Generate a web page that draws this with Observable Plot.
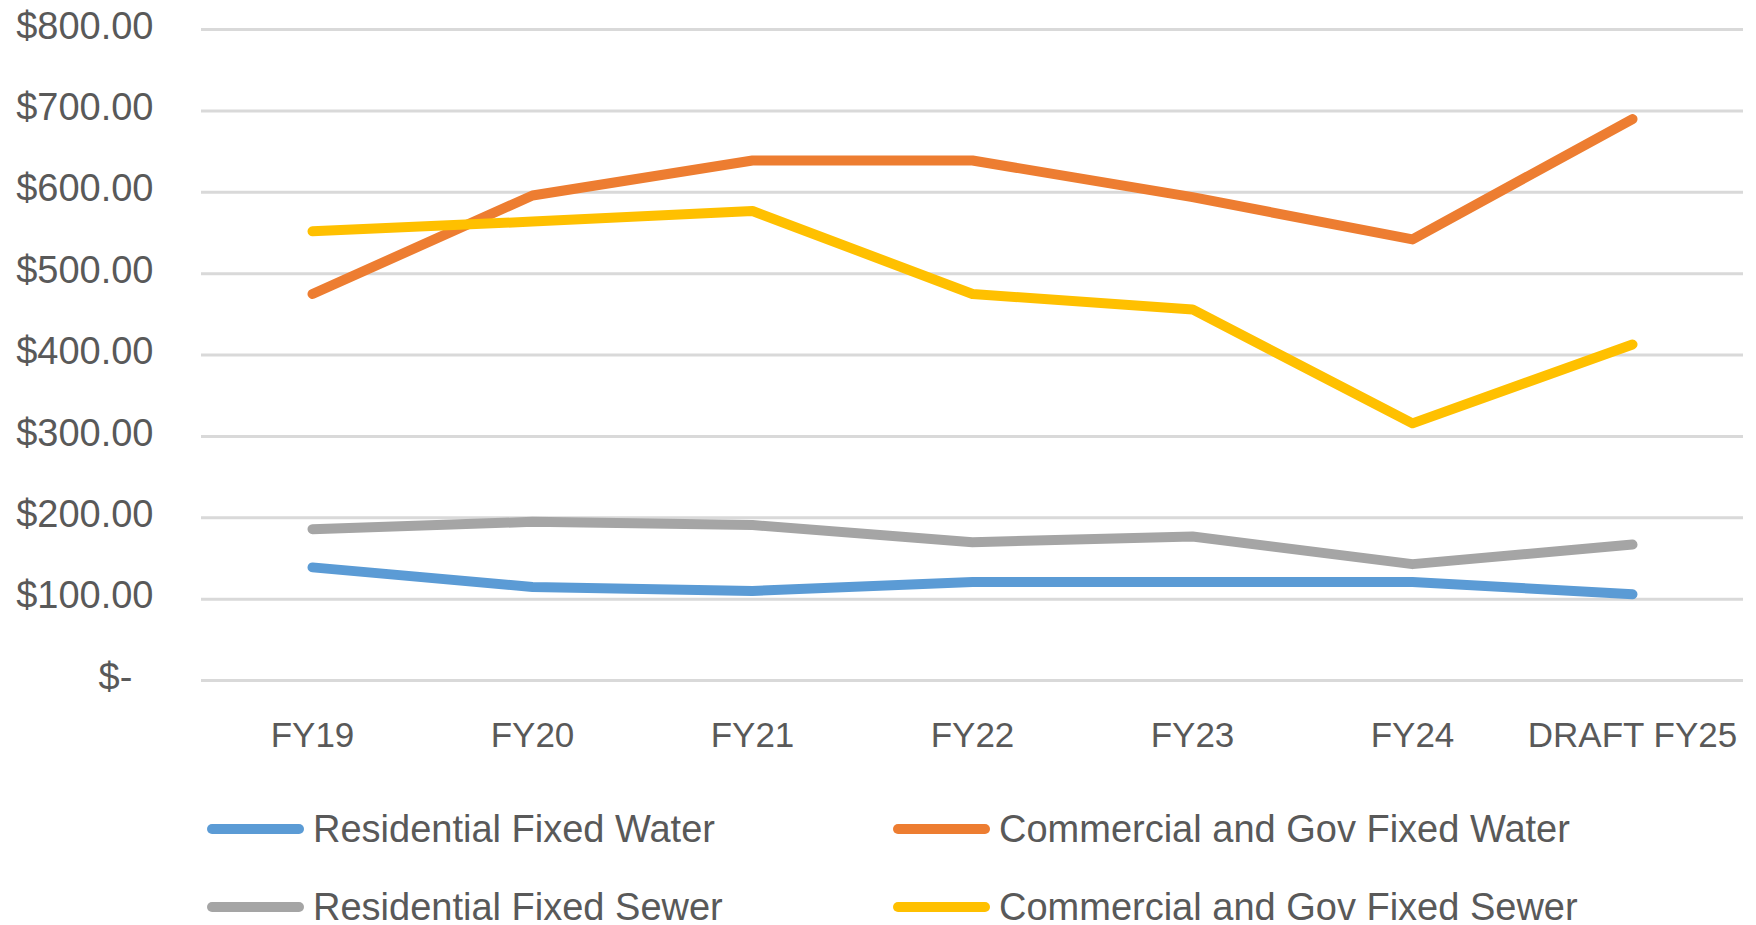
<!DOCTYPE html>
<html>
<head>
<meta charset="utf-8">
<script src="https://cdn.jsdelivr.net/npm/d3@7"></script>
<script src="https://cdn.jsdelivr.net/npm/@observablehq/plot@0.6"></script>
<style>
  html, body { margin: 0; padding: 0; background: #fff; overflow: hidden; }
  #wrap { width: 1756px; position: relative; font-family: "Liberation Sans", Arial, sans-serif; color: #595959; }
  #legend { display: grid; grid-template-columns: 686px auto; grid-auto-rows: 78px; padding-left: 207px; padding-top: 20px; }
  .item { display: flex; align-items: center; font-size: 38px; line-height: 78px; white-space: nowrap; }
  .sw { display: inline-block; width: 97px; height: 10px; border-radius: 5px; margin-right: 9px; }
</style>
</head>
<body>
<div id="wrap"><div id="chart"></div><div id="legend"></div></div>
<script>
const categories = ["FY19", "FY20", "FY21", "FY22", "FY23", "FY24", "DRAFT FY25"];
const seriesNames = ["Residential Fixed Water", "Commercial and Gov Fixed Water", "Residential Fixed Sewer", "Commercial and Gov Fixed Sewer"];
const residentialWater = [139, 115, 110, 121, 121, 121, 106];
const commercialWater = [475, 596, 639, 639, 594, 542, 690];
const residentialSewer = [186, 195, 191, 170, 177, 143, 167];
const commercialSewer = [552, 564, 577, 475, 456, 316, 413];
const colors = ["#5B9BD5", "#ED7D31", "#A5A5A5", "#FFC000"];
const yTicks = [0, 100, 200, 300, 400, 500, 600, 700, 800];

const seriesValues = [residentialWater, commercialWater, residentialSewer, commercialSewer];
const rows = [];
seriesNames.forEach((s, si) => {
  categories.forEach((c, ci) => rows.push({series: s, cat: c, value: seriesValues[si][ci]}));
});

const fmt = d => d === 0 ? "$-\u2007" : "$" + d3.format(",.2f")(d);

const chart = Plot.plot({
  width: 1756,
  height: 770,
  marginLeft: 201,
  marginRight: 13,
  marginTop: 29,
  marginBottom: 90,
  x: {type: "point", domain: categories, padding: 0.5, label: null},
  y: {domain: [0, 800], label: null},
  color: {domain: seriesNames, range: colors},
  style: {fontFamily: "'Liberation Sans', Arial, sans-serif", background: "white", color: "#595959"},
  marks: [
    Plot.gridY(yTicks, {stroke: "#d9d9d9", strokeOpacity: 1, strokeWidth: 3}),
    Plot.axisY(yTicks, {tickSize: 0, tickPadding: 48, tickFormat: fmt, fontSize: 38, fill: "#595959", label: null, dy: -3}),
    Plot.axisX({tickSize: 0, tickPadding: 42, fontSize: 35, fill: "#595959", label: null}),
    Plot.lineY(rows, {x: "cat", y: "value", z: "series", stroke: "series", strokeWidth: 10, strokeLinecap: "round", strokeLinejoin: "round"})
  ]
});
document.getElementById("chart").appendChild(chart);

const legend = document.getElementById("legend");
seriesNames.forEach((s, i) => {
  const item = document.createElement("div");
  item.className = "item";
  const sw = document.createElement("span");
  sw.className = "sw";
  sw.style.background = colors[i];
  item.appendChild(sw);
  item.appendChild(document.createTextNode(s));
  legend.appendChild(item);
});
</script>
</body>
</html>
